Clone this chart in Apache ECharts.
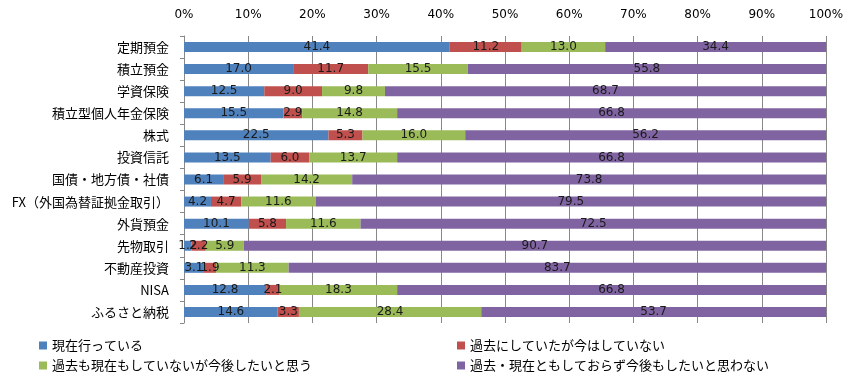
<!DOCTYPE html>
<html><head><meta charset="utf-8">
<script src="https://cdn.jsdelivr.net/npm/echarts@6/dist/echarts.min.js"></script>
<style>html,body{margin:0;padding:0;background:#fff}#c{width:852px;height:386px}</style>
</head><body><div id="c"></div>
<script>
const categories = ['定期預金','積立預金','学資保険','積立型個人年金保険','株式','投資信託','国債・地方債・社債','FX（外国為替証拠金取引）','外貨預金','先物取引','不動産投資','NISA','ふるさと納税'];
const seriesNames = ['現在行っている','過去にしていたが今はしていない','過去も現在もしていないが今後したいと思う','過去・現在ともしておらず今後もしたいと思わない'];
const current   = [41.4,17.0,12.5,15.5,22.5,13.5,6.1,4.2,10.1,1.2,3.1,12.8,14.6];
const past      = [11.2,11.7,9.0,2.9,5.3,6.0,5.9,4.7,5.8,2.2,1.9,2.1,3.3];
const future    = [13.0,15.5,9.8,14.8,16.0,13.7,14.2,11.6,11.6,5.9,11.3,18.3,28.4];
const never     = [34.4,55.8,68.7,66.8,56.2,66.8,73.8,79.5,72.5,90.7,83.7,66.8,53.7];
const colors = ['#4F81BD','#C0504D','#9BBB59','#8064A2'];
const font = '"Noto Sans CJK JP", sans-serif';
const numFont = '"DejaVu Sans", sans-serif';
const values = [current, past, future, never];
const chart = echarts.init(document.getElementById('c'));
const legendPos = [{left:39,top:339},{left:457,top:339},{left:39,top:359},{left:457,top:359}];
chart.setOption({
  animation:false,
  grid:{left:184,right:26,top:36,bottom:63},
  xAxis:{type:'value',position:'top',min:0,max:100,interval:10,
    axisLabel:{formatter:'{value}%',color:'#000',fontSize:12,fontFamily:numFont,margin:15},
    axisLine:{show:false},axisTick:{show:false},
    splitLine:{show:true,lineStyle:{color:'#888',width:1}}},
  yAxis:{type:'category',inverse:true,data:categories,
    axisLine:{show:true,lineStyle:{color:'#888'}},
    axisTick:{show:true,length:4,lineStyle:{color:'#888'}},
    axisLabel:{color:'#000',fontSize:13,fontFamily:font,margin:15}},
  legend: legendPos.map((p,i)=>({data:[seriesNames[i]],left:p.left,top:p.top,padding:0,itemWidth:8,itemHeight:8,itemGap:5,icon:'rect',
    textStyle:{fontSize:13,color:'#000',fontFamily:font,padding:[0,0,0,0]}})),
  series: seriesNames.map((n,i)=>({name:n,type:'bar',stack:'t',data:values[i],barWidth:10,
    itemStyle:{color:colors[i]},
    label:{show:true,position:'inside',formatter:p=>p.value.toFixed(1),color:'#1a1a1a',fontSize:12,fontFamily:numFont}}))
});
</script></body></html>
